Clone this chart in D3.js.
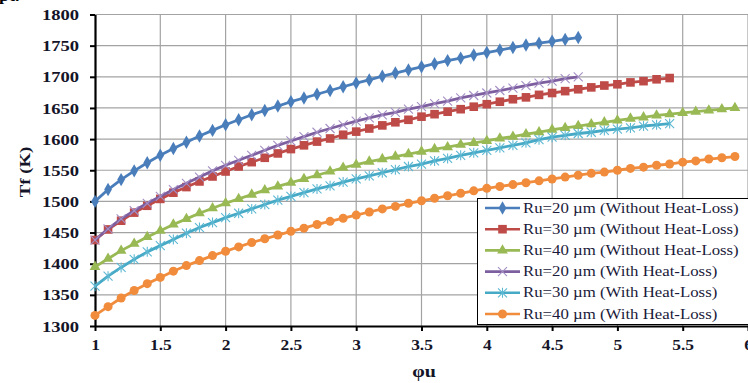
<!DOCTYPE html>
<html><head><meta charset="utf-8">
<script src="https://cdn.jsdelivr.net/npm/d3@7"></script>
<style>html,body{margin:0;padding:0;background:#fff;overflow:hidden}svg{display:block}</style>
</head><body><svg id="c" width="748" height="383"></svg>
<script>
const phi = [1.0,1.1,1.2,1.3,1.4,1.5,1.6,1.7,1.8,1.9,2.0,2.1,2.2,2.3,2.4,2.5,2.6,2.7,2.8,2.9,3.0,3.1,3.2,3.3,3.4,3.5,3.6,3.7,3.8,3.9,4.0,4.1,4.2,4.3,4.4,4.5,4.6,4.7,4.8,4.9,5.0,5.1,5.2,5.3,5.4,5.5,5.6,5.7,5.8,5.9];
const ru20NoLoss = [1500,1519,1535,1549,1562,1574,1585,1595,1605,1614,1623,1631,1639,1646,1653,1660,1666,1672,1678,1684,1690,1695,1701,1706,1711,1716,1721,1726,1730,1735,1739,1743,1747,1751,1754,1757,1760,1763];
const ru30NoLoss = [1438,1455,1469,1482,1493,1504,1514,1523,1532,1540,1548,1556,1563,1570,1577,1584,1590,1596,1601,1607,1612,1617,1622,1627,1631,1636,1640,1644,1648,1652,1656,1660,1664,1667,1671,1674,1677,1680,1683,1686,1688,1691,1693,1696,1698];
const ru40NoLoss = [1395,1408,1421,1432,1443,1453,1463,1472,1481,1489,1497,1504,1511,1518,1524,1530,1536,1542,1548,1554,1559,1564,1568,1572,1576,1580,1584,1587,1591,1594,1597,1601,1604,1608,1611,1615,1618,1621,1624,1627,1630,1633,1635,1638,1640,1642,1644,1646,1648,1650];
const ru20Loss = [1438,1456,1472,1485,1497,1508,1519,1529,1539,1549,1558,1566,1574,1582,1590,1597,1604,1611,1617,1623,1629,1634,1639,1643,1648,1652,1657,1661,1666,1670,1674,1678,1682,1686,1690,1693,1697,1700];
const ru30Loss = [1364,1380,1394,1407,1419,1429,1439,1449,1458,1466,1474,1481,1488,1495,1502,1508,1514,1520,1525,1531,1536,1541,1546,1551,1556,1560,1565,1569,1574,1578,1582,1586,1590,1594,1599,1603,1606,1609,1611,1614,1616,1618,1621,1623,1625];
const ru40Loss = [1317,1331,1345,1357,1368,1378,1388,1397,1405,1413,1420,1427,1434,1440,1446,1452,1457,1463,1468,1473,1478,1483,1488,1492,1497,1501,1505,1509,1513,1517,1521,1524,1527,1530,1533,1536,1539,1542,1545,1547,1550,1553,1555,1558,1560,1563,1565,1568,1570,1572];
const seriesNames = ["Ru=20 µm (Without Heat-Loss)","Ru=30 µm (Without Heat-Loss)","Ru=40 µm (Without Heat-Loss)","Ru=20 µm (With Heat-Loss)","Ru=30 µm (With Heat-Loss)","Ru=40 µm (With Heat-Loss)"];
const xTicks = [1,1.5,2,2.5,3,3.5,4,4.5,5,5.5,6];
const yTicks = [1300,1350,1400,1450,1500,1550,1600,1650,1700,1750,1800];

const seriesValues = [ru20NoLoss, ru30NoLoss, ru40NoLoss, ru20Loss, ru30Loss, ru40Loss];
const colors = ["#4A7EBB","#BE4B48","#98B954","#7D5FA0","#46A9C5","#F08C3C"];
const markers = ["diamond","square","triangle","x","star","circle"];

const svg = d3.select("#c");
const x = d3.scaleLinear().domain([1,6]).range([95,748]);
const y = d3.scaleLinear().domain([1300,1800]).range([326,14.5]);

// gridlines
const grid = svg.append("g");
grid.selectAll("line.h").data(yTicks.slice(1)).enter().append("line")
  .attr("x1", x(1)).attr("x2", x(6)).attr("y1", d=>y(d)).attr("y2", d=>y(d))
  .attr("stroke","#a3a3a3").attr("stroke-width",1.2);
grid.selectAll("line.v").data(xTicks.slice(1)).enter().append("line")
  .attr("x1", d=>x(d)).attr("x2", d=>x(d)).attr("y1", y(1800)).attr("y2", y(1300))
  .attr("stroke","#a3a3a3").attr("stroke-width",1.2);

const serif = "'Liberation Serif','Times New Roman',serif";

// axes
const yAxis = svg.append("g").attr("transform",`translate(${x(1)},0)`)
  .call(d3.axisLeft(y).tickValues(yTicks).tickSize(5).tickSizeOuter(0).tickFormat(d3.format("d")));
const xAxis = svg.append("g").attr("transform",`translate(0,${y(1300)})`)
  .call(d3.axisBottom(x).tickValues(xTicks).tickSize(5).tickSizeOuter(0).tickFormat(d=>String(d)));
[yAxis,xAxis].forEach(a=>{
  a.select(".domain").attr("stroke","#000").attr("stroke-width",2.2);
  a.selectAll(".tick line").attr("stroke","#000").attr("stroke-width",2);
  a.selectAll(".tick text").attr("font-family",serif).attr("font-weight","bold")
    .attr("font-size",14.5).attr("fill","#141428");
});
yAxis.selectAll(".tick text").attr("x",0).attr("dy","0.35em").attr("text-anchor","end")
  .attr("transform","translate(-16,0) scale(1.28,1)");
xAxis.selectAll(".tick text").attr("y",0).attr("dy",0).attr("text-anchor","middle")
  .attr("transform","translate(0,24) scale(1.2,1)");

// axis titles
svg.append("text").attr("transform","translate(30,172) rotate(-90) scale(1.25,1)")
  .attr("text-anchor","middle").attr("font-family",serif).attr("font-size",15).attr("font-weight","bold")
  .attr("fill","#141428").text("Tf (K)");
svg.append("text").attr("transform","translate(424,377) scale(1.25,1)")
  .attr("text-anchor","middle").attr("font-family",serif).attr("font-size",16).attr("font-weight","bold")
  .attr("fill","#141428").text("φu");
svg.append("text").attr("transform","translate(-1,1) scale(1.2,1)")
  .attr("font-family",serif).attr("font-size",15).attr("font-weight","bold").attr("fill","#000").text("pt.");

function drawMarker(g, type, color, cx, cy){
  if(type==="diamond"){
    g.append("path").attr("d", d3.symbol(d3.symbolDiamond, 52)()).attr("transform",`translate(${cx},${cy})`).attr("fill",color);
  } else if(type==="square"){
    g.append("rect").attr("x",cx-4.3).attr("y",cy-4.3).attr("width",8.6).attr("height",8.6).attr("fill",color);
  } else if(type==="triangle"){
    g.append("path").attr("d", d3.symbol(d3.symbolTriangle, 50)()).attr("transform",`translate(${cx},${cy})`).attr("fill",color);
  } else if(type==="x"){
    g.append("path").attr("d",`M${cx-4.5},${cy-4.5}L${cx+4.5},${cy+4.5}M${cx-4.5},${cy+4.5}L${cx+4.5},${cy-4.5}`)
      .attr("stroke","#a58fc4").attr("stroke-width",1.1).attr("fill","none");
  } else if(type==="star"){
    g.append("path").attr("d",`M${cx-4.5},${cy-4.5}L${cx+4.5},${cy+4.5}M${cx-4.5},${cy+4.5}L${cx+4.5},${cy-4.5}M${cx},${cy-5}L${cx},${cy+5}`)
      .attr("stroke","#5db8d2").attr("stroke-width",1.1).attr("fill","none");
  } else if(type==="circle"){
    g.append("circle").attr("cx",cx).attr("cy",cy).attr("r",4.5).attr("fill",color);
  }
}

const line = d3.line().x(d=>x(d[0])).y(d=>y(d[1]));
seriesValues.forEach((vals,i)=>{
  const pts = vals.map((v,j)=>[phi[j], v]);
  const g = svg.append("g");
  g.append("path").datum(pts).attr("d",line).attr("fill","none")
    .attr("stroke",colors[i]).attr("stroke-width",2.8).attr("stroke-linejoin","round");
  pts.forEach(p=>drawMarker(g, markers[i], colors[i], x(p[0]), y(p[1])));
});

// legend
const lg = svg.append("g");
lg.append("rect").attr("x",477.5).attr("y",198.5).attr("width",280).attr("height",126)
  .attr("fill","#fff").attr("stroke","#000").attr("stroke-width",1);
seriesNames.forEach((name,i)=>{
  const cy = 208 + i*21.2;
  lg.append("line").attr("x1",485).attr("x2",520).attr("y1",cy).attr("y2",cy)
    .attr("stroke",colors[i]).attr("stroke-width",2.6);
  drawMarker(lg, markers[i], colors[i], 502.5, cy);
  lg.append("text").attr("transform",`translate(523,${cy+4.5}) scale(1.2,1)`)
    .attr("font-family",serif).attr("font-size",14).attr("fill","#1a1a3a").text(name);
});
</script></body></html>
